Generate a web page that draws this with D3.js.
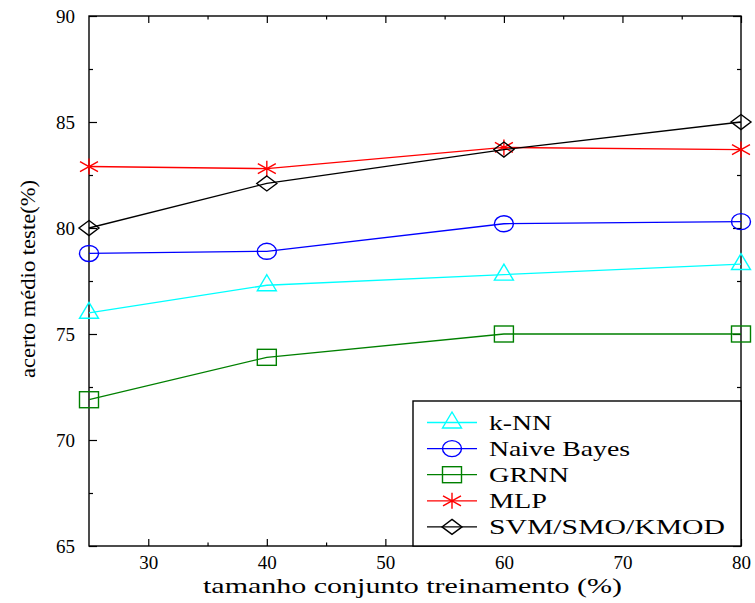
<!DOCTYPE html>
<html>
<head>
<meta charset="utf-8">
<script src="https://cdnjs.cloudflare.com/ajax/libs/d3/7.8.5/d3.min.js"></script>
<style>
body { margin: 0; background: #fff; }
svg text { font-family: "Liberation Serif", "DejaVu Serif", serif; fill: #000; }
</style>
</head>
<body>
<svg id="chart" width="755" height="603"></svg>
<script>
// training set size (%)
var sizes = [25, 40, 60, 80]

var names = ["k-NN", "Naive Bayes", "GRNN", "MLP", "SVM/SMO/KMOD"]
var colors = ["#00ffff", "#0000ff", "#008000", "#ff0000", "#000000"]
var markers = ["triangle", "circle", "square", "star", "diamond"]

var knn = [76.0, 77.3, 77.8, 78.3]
var naiveBayes = [78.8, 78.9, 80.2, 80.3]
var grnn = [71.9, 73.9, 75.0, 75.0]
var mlp = [82.9, 82.8, 83.8, 83.7]
var svm = [80.0, 82.1, 83.7, 85.0]

var xTicks = [30, 40, 50, 60, 70, 80]
var xMinor = [35, 45, 55, 65, 75]
var yTicks = [65, 70, 75, 80, 85, 90]
var yMinor = [67.5, 72.5, 77.5, 82.5, 87.5]

var xLabel = "tamanho conjunto treinamento (%)"
var yLabel = "acerto médio teste(%)"

var allSeries = [knn, naiveBayes, grnn, mlp, svm]

// plot box (window.top is reserved, so use other names)
var pLeft = 89, pTop = 16, pRight = 741, pBottom = 546
var svg = d3.select("#chart")

var x = d3.scaleLinear().domain([25, 80]).range([pLeft, pRight])
var y = d3.scaleLinear().domain([65, 90]).range([pBottom, pTop])

// axes, ticks inward on all four sides
function axisGroup(axis, tx, ty) {
    var g = svg.append("g").attr("transform", "translate(" + tx + "," + ty + ")").call(axis)
    g.select(".domain").remove()
    g.selectAll("line").attr("stroke", "#000").attr("stroke-width", 1.2)
    g.selectAll("text").attr("font-size", "19px")
    return g
}

axisGroup(d3.axisBottom(x).tickValues(xTicks).tickSize(-7).tickPadding(10).tickFormat(d3.format("d")), 0, pBottom)
axisGroup(d3.axisBottom(x).tickValues(xMinor).tickSize(-3.5).tickFormat(""), 0, pBottom)
axisGroup(d3.axisTop(x).tickValues(xTicks).tickSize(-7).tickFormat(""), 0, pTop)
axisGroup(d3.axisTop(x).tickValues(xMinor).tickSize(-3.5).tickFormat(""), 0, pTop)

axisGroup(d3.axisLeft(y).tickValues(yTicks).tickSize(-8).tickPadding(14).tickFormat(d3.format("d")), pLeft, 0)
axisGroup(d3.axisLeft(y).tickValues(yMinor).tickSize(-4).tickFormat(""), pLeft, 0)
axisGroup(d3.axisRight(y).tickValues(yTicks).tickSize(-8).tickFormat(""), pRight, 0)
axisGroup(d3.axisRight(y).tickValues(yMinor).tickSize(-4).tickFormat(""), pRight, 0)

// d3 axis sets font-family on the group; drop it so the css serif applies
svg.selectAll("g").attr("font-family", null)

svg.append("rect").attr("x", pLeft).attr("y", pTop).attr("width", pRight - pLeft).attr("height", pBottom - pTop)
    .attr("fill", "none").attr("stroke", "#000").attr("stroke-width", 1.4)

// axis titles
svg.append("text").text(xLabel).attr("x", 203).attr("y", 593)
    .attr("font-size", "22px").attr("textLength", 419).attr("lengthAdjust", "spacingAndGlyphs")
svg.append("text").text(yLabel).attr("transform", "translate(35,378) rotate(-90)")
    .attr("font-size", "21px").attr("textLength", 198).attr("lengthAdjust", "spacingAndGlyphs")

// marker drawing
function drawMarker(g, type, cx, cy, color) {
    if (type === "circle") {
        g.append("ellipse").attr("cx", cx).attr("cy", cy).attr("rx", 9.5).attr("ry", 8)
            .attr("fill", "none").attr("stroke", color).attr("stroke-width", 1.4)
    } else if (type === "square") {
        g.append("rect").attr("x", cx - 9.5).attr("y", cy - 8).attr("width", 19).attr("height", 16)
            .attr("fill", "none").attr("stroke", color).attr("stroke-width", 1.4)
    } else if (type === "triangle") {
        var p = [[cx, cy - 10.5], [cx + 9.5, cy + 5.5], [cx - 9.5, cy + 5.5]]
        g.append("path").attr("d", "M" + p.join("L") + "Z")
            .attr("fill", "none").attr("stroke", color).attr("stroke-width", 1.4)
    } else if (type === "diamond") {
        var q = [[cx, cy - 7.5], [cx + 10, cy], [cx, cy + 7.5], [cx - 10, cy]]
        g.append("path").attr("d", "M" + q.join("L") + "Z")
            .attr("fill", "none").attr("stroke", color).attr("stroke-width", 1.4)
    } else if (type === "star") {
        var d = "M" + cx + "," + (cy - 8) + "L" + cx + "," + (cy + 8) +
            "M" + (cx - 9) + "," + (cy - 5) + "L" + (cx + 9) + "," + (cy + 5) +
            "M" + (cx - 9) + "," + (cy + 5) + "L" + (cx + 9) + "," + (cy - 5)
        g.append("path").attr("d", d).attr("fill", "none").attr("stroke", color).attr("stroke-width", 1.4)
    }
}

var line = d3.line().x(function (d, i) { return x(sizes[i]) }).y(function (d) { return y(d) })

allSeries.forEach(function (vals, k) {
    var g = svg.append("g")
    g.append("path").datum(vals).attr("d", line).attr("fill", "none")
        .attr("stroke", colors[k]).attr("stroke-width", 1.3)
    vals.forEach(function (v, i) {
        drawMarker(g, markers[k], x(sizes[i]), y(v), colors[k])
    })
})

// legend
var legendWidths = [63, 141, 80, 58, 236]
var lx = 413, ly = 401
svg.append("rect").attr("x", lx).attr("y", ly).attr("width", pRight - lx).attr("height", pBottom - ly)
    .attr("fill", "#fff").attr("stroke", "#000").attr("stroke-width", 1.4)

names.forEach(function (n, k) {
    var ry = 422.5 + k * 26.1
    var g = svg.append("g")
    g.append("line").attr("x1", 427).attr("x2", 477).attr("y1", ry).attr("y2", ry)
        .attr("stroke", colors[k]).attr("stroke-width", 1.3)
    drawMarker(g, markers[k], 452, ry, colors[k])
    g.append("text").text(n).attr("x", 489).attr("y", ry).attr("dy", "0.34em").attr("font-size", "21px")
        .attr("textLength", legendWidths[k]).attr("lengthAdjust", "spacingAndGlyphs")
})
</script>
</body>
</html>
